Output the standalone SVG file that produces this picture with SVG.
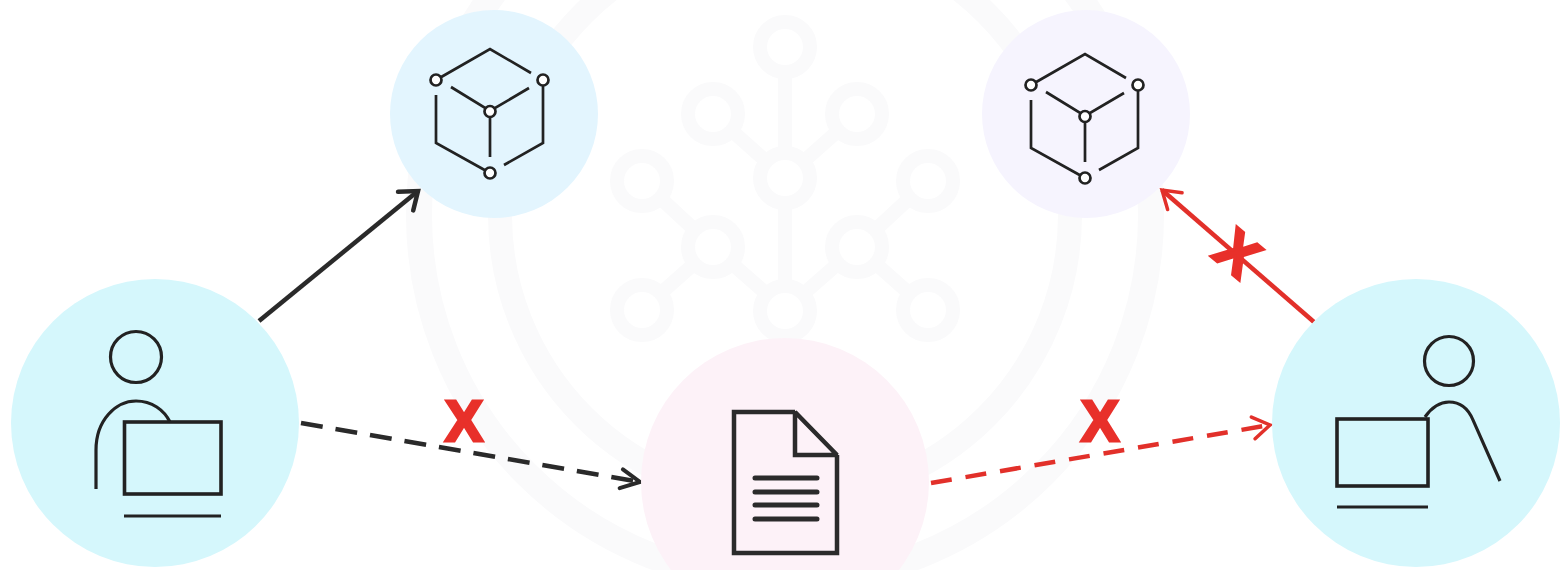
<svg xmlns="http://www.w3.org/2000/svg" width="1565" height="570" viewBox="0 0 1565 570">
<style>
.wm{fill:none;stroke:#fafafb}
.wr{fill:#fff;stroke:#fafafb;stroke-width:14}
.ic{fill:none;stroke:#222;stroke-width:3.2}
.cu{fill:none;stroke:#222;stroke-width:2.7}
.cn{fill:#fff;stroke:#222;stroke-width:2.7}
.doc{fill:none;stroke:#2b2b2b;stroke-width:4.5;stroke-linejoin:miter;stroke-miterlimit:2}
.dl{stroke:#2b2b2b;stroke-width:5;stroke-linecap:round}
.k{fill:none;stroke:#2a2a2a;stroke-width:4.5}
.r{fill:none;stroke:#e2302a;stroke-width:4.5}
.xm{font-family:"Liberation Sans",Arial,sans-serif;font-weight:700;font-size:57px;fill:#e8302a;stroke:#e8302a;stroke-width:3;text-anchor:middle}
</style>
<defs>
<marker id="ak" markerUnits="userSpaceOnUse" markerWidth="40" markerHeight="40" refX="30" refY="20" orient="auto" overflow="visible"><path d="M14 8 L30 20 L14 32" fill="none" stroke="#2a2a2a" stroke-width="4.5" stroke-linecap="round"/></marker>
<marker id="ad" markerUnits="userSpaceOnUse" markerWidth="40" markerHeight="40" refX="30" refY="20" orient="auto" overflow="visible"><path d="M11 10.500 L30 20 L11 29.500" fill="none" stroke="#2a2a2a" stroke-width="4" stroke-linecap="round"/></marker>
<marker id="ar" markerUnits="userSpaceOnUse" markerWidth="40" markerHeight="40" refX="30" refY="20" orient="auto" overflow="visible"><path d="M13 9 L30 20 L13 31" fill="none" stroke="#e2302a" stroke-width="3.500" stroke-linecap="round"/></marker>
<g id="cube">
<path class="cu" d="M436 80 L490 49 L531 73 M451 87 L490 111 L529 88 M490 111 V157 M436 95 V143 L490 173 M504 165 L543 143 V80"/>
<circle class="cn" cx="436" cy="80" r="5.5"/><circle class="cn" cx="543" cy="80" r="5.5"/><circle class="cn" cx="490" cy="111.500" r="5.500"/><circle class="cn" cx="490" cy="173" r="5.500"/>
</g>
</defs>
<rect width="1565" height="570" fill="#fff"/>
<g id="watermark">
<circle class="wm" cx="785" cy="215" r="366" stroke-width="26"/>
<circle class="wm" cx="785" cy="215" r="285" stroke-width="24"/>
<path class="wm" stroke-width="14" d="M785 47 V310 M713 114 L785 178 L857 114 M642 181 L713 247 L785 310 L857 247 L928 181 M642 310 L713 247 M928 310 L857 247"/>
<circle class="wr" cx="785" cy="47" r="25"/><circle class="wr" cx="713" cy="114" r="25"/><circle class="wr" cx="857" cy="114" r="25"/>
<circle class="wr" cx="642" cy="181" r="25"/><circle class="wr" cx="928" cy="181" r="25"/><circle class="wr" cx="785" cy="178" r="25"/>
<circle class="wr" cx="713" cy="247" r="25"/><circle class="wr" cx="857" cy="247" r="25"/>
<circle class="wr" cx="642" cy="310" r="25"/><circle class="wr" cx="928" cy="310" r="25"/><circle class="wr" cx="785" cy="311" r="25"/>
</g>
<g id="connectors">
<line class="k" x1="259" y1="321" x2="418" y2="191" marker-end="url(#ak)"/>
<line class="k" x1="301" y1="423" x2="640" y2="482" stroke-dasharray="22 13" marker-end="url(#ad)"/>
<line class="r" x1="931" y1="483" x2="1270" y2="425" stroke-dasharray="21 14" marker-end="url(#ar)"/>
<line class="r" x1="1314" y1="322" x2="1162" y2="190" marker-end="url(#ar)"/>
</g>
<g id="labels">
<text class="xm" x="464" y="441">X</text>
<text class="xm" x="1100" y="441">X</text>
<text class="xm" transform="translate(1238 253) rotate(40)" x="0" y="20">X</text>
</g>
<g id="node-user-left">
<circle cx="155" cy="423" r="144" fill="#d5f7fc"/>
<circle class="ic" cx="136" cy="357" r="25.500"/>
<path class="ic" d="M96 489 V450 C96 420 116 401 136 401 C152 401 164 410 170 422"/>
<rect class="ic" x="124.500" y="422" width="96.500" height="72" style="stroke-width:3.6"/>
<line class="ic" x1="124" y1="516" x2="221" y2="516"/>
</g>
<g id="node-cube-left">
<circle cx="494" cy="114" r="104" fill="#e3f5fe"/>
<use href="#cube"/>
</g>
<g id="node-cube-right">
<circle cx="1086" cy="114" r="104" fill="#f6f4fe"/>
<use href="#cube" transform="translate(595 5)"/>
</g>
<g id="node-document">
<circle cx="785" cy="482" r="144" fill="#fdf2f8"/>
<path class="doc" d="M795 412 H734 V553 H837 V455"/>
<path class="doc" d="M795 412 L837 455 H795 Z"/>
<path class="dl" d="M755 478 H817 M755 492 H817 M755 505 H817 M755 519 H817"/>
</g>
<g id="node-user-right">
<circle cx="1416" cy="423" r="144" fill="#d5f7fc"/>
<circle class="ic" cx="1449" cy="361" r="24.500"/>
<path class="ic" d="M1425 417 C1432 407 1441 402 1449 402 C1460 402 1468 408 1473 420 L1500 481"/>
<rect class="ic" x="1337" y="419" width="91" height="67" style="stroke-width:3.6"/>
<line class="ic" x1="1337" y1="507" x2="1428" y2="507"/>
</g>
</svg>
